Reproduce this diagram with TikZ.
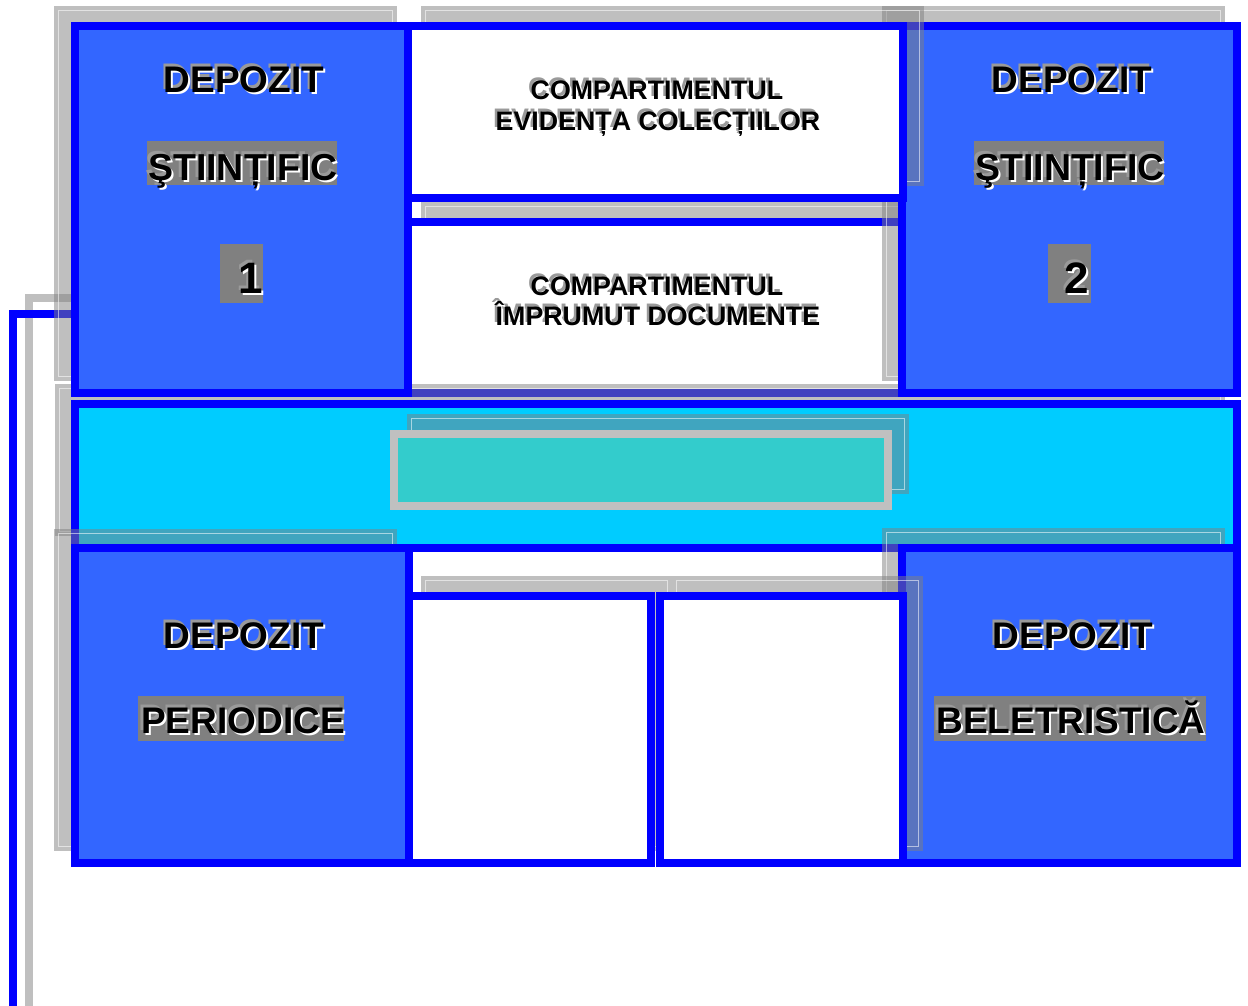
\documentclass[tikz,border=0pt]{standalone}
\usepackage{fontspec}
\setmainfont{Liberation Sans}
\definecolor{lineblue}{HTML}{0000FF}
\definecolor{depotblue}{HTML}{3366FF}
\definecolor{bandcyan}{HTML}{00CCFF}
\definecolor{poolteal}{HTML}{33CCCC}
\definecolor{framegray}{HTML}{C0C0C0}
\definecolor{shgray}{HTML}{808080}
\definecolor{labelgray}{HTML}{808080}
\definecolor{embgray}{HTML}{9A9A9A}
\tikzset{
  shadowfill/.style={fill=shgray, fill opacity=0.5, draw=none},
  shadowline/.style={draw=white, draw opacity=0.55, line width=0.9pt},
  depot/.style={draw=lineblue, line width=8pt, fill=depotblue},
  office/.style={draw=lineblue, line width=8pt, fill=white},
  hall/.style={draw=lineblue, line width=8pt, fill=bandcyan},
  pool/.style={draw=framegray, line width=8pt, fill=poolteal},
  labelbox/.style={fill=labelgray, draw=none},
  embtext/.style={anchor=base, inner sep=0pt, font=\bfseries\fontsize{#1}{#1}\selectfont},
  wire/.style={draw=lineblue, line width=8pt},
  wireshadow/.style={draw=shgray, draw opacity=0.5, line width=8pt}
}
\newcommand{\shadowrect}[4]{%
  \fill[shadowfill] (#1,#2) rectangle (#3,#4);
  \draw[shadowline] (#1+4.5,#2+4.5) rectangle (#3-4.5,#4-4.5);}
\newcommand{\embossed}[5]{% name, x, y, size, text
  \node[embtext=#4, text=embgray, xshift=-2.5pt, yshift=2.5pt] at (#2,#3) {#5};
  \node[embtext=#4, text=white, xshift=2pt, yshift=-2pt] at (#2,#3) {#5};
  \node[embtext=#4, text=black] (#1) at (#2,#3) {#5};}
\begin{document}
\begin{tikzpicture}[x=1pt,y=-1pt]
\useasboundingbox (0,0) rectangle (1248,1005);
\fill[white] (0,0) rectangle (1248,1005);

% connector (with its shadow)
\coordinate (cbot) at (13,1040);
\coordinate (ctop) at (75,314);
\draw[wireshadow] ([shift={(16,-16)}]cbot) |- ([shift={(16,-16)}]ctop);
\draw[wire] (cbot) |- (ctop);

% compartment imprumut
\shadowrect{421}{202}{924}{381}
\draw[office] (408,222) rectangle (903,393);

% central hall band
\shadowrect{55}{384}{1225}{536}
\draw[hall] (75,404) rectangle (1237,548);

% depozit stiintific 1
\shadowrect{54}{6}{397}{381}
\draw[depot] (75,26) rectangle (408,393);

% depozit stiintific 2
\shadowrect{882}{6}{1225}{381}
\draw[depot] (902,26) rectangle (1237,393);

% compartment evidenta
\shadowrect{421}{6}{924}{186}
\draw[office] (408,26) rectangle (903,198);

% teal pool
\shadowrect{407}{414}{909}{494}
\draw[pool] (394,434) rectangle (888,506);

% depozit periodice
\shadowrect{54}{529}{397}{851}
\draw[depot] (75,548) rectangle (409,863);

% depozit beletristica
\shadowrect{882}{528}{1225}{851}
\draw[depot] (902,548) rectangle (1237,863);

% lower rooms
\shadowrect{421}{576}{672}{851}
\draw[office] (408.5,596) rectangle (651,862.5);
\shadowrect{672}{576}{923}{851}
\draw[office] (659.5,596) rectangle (903,862.5);

% label boxes
\fill[labelbox] (147,141) rectangle (337,185);
\fill[labelbox] (220,244) rectangle (263,303);
\fill[labelbox] (974,141) rectangle (1164,185);
\fill[labelbox] (1048,244) rectangle (1091,303);
\fill[labelbox] (138,696) rectangle (344,741);
\fill[labelbox] (934,696) rectangle (1206,741);

% texts
\embossed{d1a}{244}{92}{37}{DEPOZIT}
\embossed{d1b}{243}{180}{37.5}{ŞTIINȚIFIC}
\embossed{d1c}{251}{293}{44}{1}
\embossed{d2a}{1072}{92}{37}{DEPOZIT}
\embossed{d2b}{1070}{180}{37.5}{ŞTIINȚIFIC}
\embossed{d2c}{1077}{293}{44}{2}
\embossed{d3a}{244}{648}{37}{DEPOZIT}
\embossed{d3b}{243}{733}{37}{PERIODICE}
\embossed{d4a}{1073}{648}{37}{DEPOZIT}
\embossed{d4b}{1071}{733}{37}{BELETRISTICĂ}
\embossed{e1}{657}{99}{26.8}{COMPARTIMENTUL}
\embossed{e2}{658}{130}{26.8}{EVIDENȚA COLECȚIILOR}
\embossed{i1}{657}{295}{26.8}{COMPARTIMENTUL}
\embossed{i2}{658}{325}{26.8}{ÎMPRUMUT DOCUMENTE}
\end{tikzpicture}
\end{document}
